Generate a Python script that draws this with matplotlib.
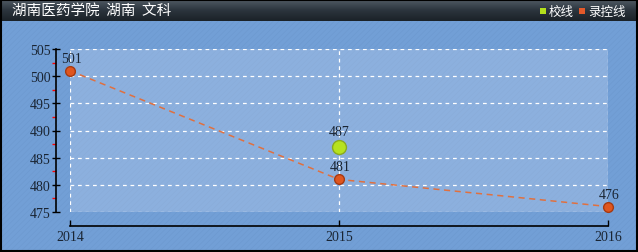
import matplotlib
matplotlib.use("Agg")
import matplotlib.pyplot as plt
import numpy as np
from matplotlib.patches import Rectangle
from matplotlib.ticker import MultipleLocator
from matplotlib.colors import LinearSegmentedColormap

plt.rcParams['hatch.linewidth'] = 0.4

years = [2014, 2015, 2016]
control_line = [501, 481, 476]
school_years = [2015]
school_line = [487]
title = "湖南医药学院  湖南  文科"
legend_labels = ["校线", "录控线"]

W, H = 638, 253
fig = plt.figure(figsize=(W / 100, H / 100), dpi=100)
fig.patch.set_facecolor('#729fd6')

# background hatch
bg = fig.add_axes([0, 0, 1, 1], zorder=-10)
bg.set_xlim(0, W); bg.set_ylim(H, 0); bg.axis('off')
bg.add_patch(Rectangle((0, 0), W, H, facecolor='#729fd6', edgecolor=(0.35, 0.5, 0.7, 0.2), hatch='//////', lw=0))
# title bar gradient
grad = np.linspace(0, 1, 50).reshape(-1, 1)
cmap = LinearSegmentedColormap.from_list('bar', ['#525c66', '#2c353e', '#1b2228'])
bg.imshow(grad, extent=[0, W, 22, 0], cmap=cmap, aspect='auto', zorder=1)
bg.set_xlim(0, W); bg.set_ylim(H, 0)
bg.add_patch(Rectangle((0.5, 0.5), W - 1.5, H - 1.5, fill=False, edgecolor='#000000', lw=1.5, zorder=5))

fig.text(12 / W, 1 - 11 / H, title, color='white', fontsize=10.5,
         family=['Noto Sans CJK SC', 'DejaVu Sans'], va='center', ha='left')
# legend
bg.add_patch(Rectangle((540, 9), 6, 6, facecolor='#b3e01c', edgecolor='none', zorder=3))
bg.text(549, 12, legend_labels[0], color='white', fontsize=9,
        family=['Noto Sans CJK SC', 'DejaVu Sans'], va='center', ha='left', zorder=3)
bg.add_patch(Rectangle((579, 9), 6, 6, facecolor='#e2592a', edgecolor='none', zorder=3))
bg.text(588, 12, legend_labels[1], color='white', fontsize=9,
        family=['Noto Sans CJK SC', 'DejaVu Sans'], va='center', ha='left', zorder=3)

ax = fig.add_axes([70 / W, 40 / H, 538 / W, 163 / H])
ax.set_facecolor((0.75, 0.82, 0.93, 0.35))
ax.set_xlim(2014, 2016)
ax.set_ylim(475, 505)

for s in ['top', 'right']:
    ax.spines[s].set_visible(False)
ax.spines['left'].set_position(('outward', 10))
ax.spines['bottom'].set_position(('outward', 10))
ax.spines['left'].set_color('black')
ax.spines['bottom'].set_color('black')
ax.spines['left'].set_linewidth(1.2)
ax.spines['bottom'].set_linewidth(1.2)

ax.set_xticks(years)
ax.set_xticklabels([str(y) for y in years])
ax.yaxis.set_major_locator(MultipleLocator(5))
ax.yaxis.set_minor_locator(MultipleLocator(2.5))
ax.tick_params(axis='x', direction='in', length=4, width=1, color='black', pad=3,
               labelsize=10, labelcolor='#1a2533')
ax.tick_params(axis='y', which='major', direction='inout', length=6, width=1, color='black',
               pad=1, labelsize=10, labelcolor='#1a2533')
ax.tick_params(axis='y', which='minor', direction='out', length=3, width=1, color='red')
for lab in ax.get_xticklabels() + ax.get_yticklabels():
    lab.set_family('Liberation Serif')

ax.grid(True, which='major', color=(1, 1, 1, 0.22), linestyle=(0, (3, 3)), linewidth=0.9)
ax.set_axisbelow(True)

ax.plot(years, control_line, color='#e0703f', linestyle=(0, (4, 3)), linewidth=1.1,
        marker='o', markersize=7, markerfacecolor='#e0561f', markeredgecolor='#a63a12',
        markeredgewidth=1, clip_on=False, zorder=4)
ax.plot(school_years, school_line, linestyle='none', marker='o', markersize=10,
        markerfacecolor='#b6e21f', markeredgecolor='#8aaa20', markeredgewidth=1,
        clip_on=False, zorder=4)

for x, y in zip(years, control_line):
    ax.annotate(str(y), (x, y), xytext=(1, 9), textcoords='offset points',
                ha='center', va='center', fontsize=10, color='#1a2533',
                family='Liberation Serif', annotation_clip=False)
for x, y in zip(school_years, school_line):
    ax.annotate(str(y), (x, y), xytext=(0, 11), textcoords='offset points',
                ha='center', va='center', fontsize=10, color='#1a2533',
                family='Liberation Serif', annotation_clip=False)

fig.savefig('out.png', dpi=100, facecolor=fig.get_facecolor())
